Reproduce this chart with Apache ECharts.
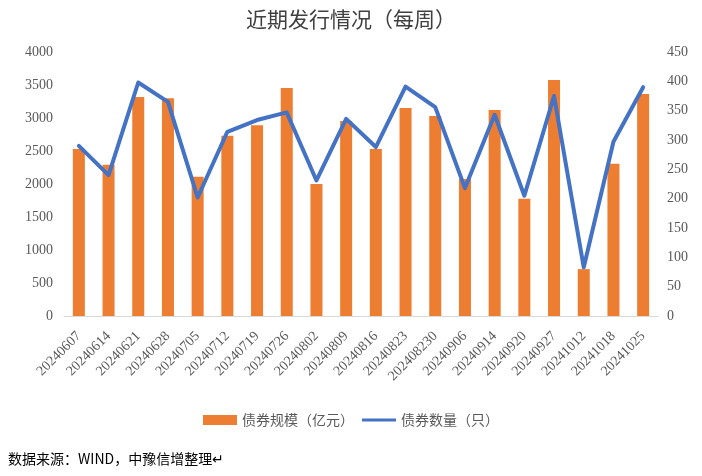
<!DOCTYPE html>
<html>
<head>
<meta charset="utf-8">
<script src="https://cdn.jsdelivr.net/npm/echarts@6/dist/echarts.min.js"></script>
<style>
html,body{margin:0;padding:0;background:#fff;}
#chart{width:702px;height:476px;}
</style>
</head>
<body>
<div id="chart"></div>
<script>
var categories = ['20240607','20240614','20240621','20240628','20240705','20240712','20240719','20240726','20240802','20240809','20240816','20240823','202408230','20240906','20240914','20240920','20240927','20241012','20241018','20241025'];
var bondScale = [2530,2290,3320,3300,2110,2730,2890,3455,2000,2955,2530,3150,3030,2075,3120,1775,3575,710,2305,3365];
var bondCount = [290,240,398,365,202,314,334,347,231,336,288,391,356,218,343,205,375,83,297,390];
var leftTicks = {min:0, max:4000, interval:500};
var rightTicks = {min:0, max:450, interval:50};

var chart = echarts.init(document.getElementById('chart'), null, {renderer:'canvas'});
var serif = 'Liberation Serif';
var cjk = 'Noto Sans CJK SC';
chart.setOption({
  animation:false,
  backgroundColor:'#fff',
  title:{
    text:'近期发行情况（每周）',
    left:'center', top:4,
    textStyle:{fontFamily:cjk, fontSize:21, fontWeight:'normal', color:'#404040'}
  },
  legend:{
    top:408, left:'center',
    itemWidth:34, itemHeight:10, itemGap:8,
    textStyle:{fontFamily:cjk, fontSize:14, color:'#595959'},
    data:[
      {name:'债券规模（亿元）', icon:'rect'},
      {name:'债券数量（只）', icon:'path://M0,0 L0,0 M0,3.5 L36,3.5 L36,6.5 L0,6.5 Z M36,10 L36,10', itemStyle:{color:'#4472C4'}}
    ]
  },
  grid:{left:64, right:44, top:52, bottom:160},
  xAxis:{
    type:'category',
    data:categories,
    axisLine:{lineStyle:{color:'#d9d9d9', width:1}},
    axisTick:{show:false},
    axisLabel:{interval:0, rotate:45, margin:18, fontFamily:serif, fontSize:14, color:'#595959'}
  },
  yAxis:[
    {type:'value', min:leftTicks.min, max:leftTicks.max, interval:leftTicks.interval,
     splitLine:{show:false}, axisLine:{show:false}, axisTick:{show:false},
     axisLabel:{margin:11, fontFamily:serif, fontSize:14, color:'#595959', formatter:function(v){return String(v);}}},
    {type:'value', min:rightTicks.min, max:rightTicks.max, interval:rightTicks.interval,
     splitLine:{show:false}, axisLine:{show:false}, axisTick:{show:false},
     axisLabel:{margin:9, fontFamily:serif, fontSize:14, color:'#595959', formatter:function(v){return String(v);}}}
  ],
  series:[
    {name:'债券规模（亿元）', type:'bar', data:bondScale, barWidth:12,
     itemStyle:{color:'#ED7D31'}, yAxisIndex:0},
    {name:'债券数量（只）', type:'line', data:bondCount, yAxisIndex:1,
     symbol:'none', showSymbol:false, smooth:false,
     lineStyle:{color:'#4472C4', width:4, join:'round', cap:'round'},
     itemStyle:{color:'#4472C4'}}
  ],
  graphic:[
    {type:'text', left:8, top:452,
     style:{text:'数据来源：WIND，中豫信增整理↵', font:'14px "Noto Sans CJK SC"', fill:'#000'}}
  ]
});
</script>
</body>
</html>
